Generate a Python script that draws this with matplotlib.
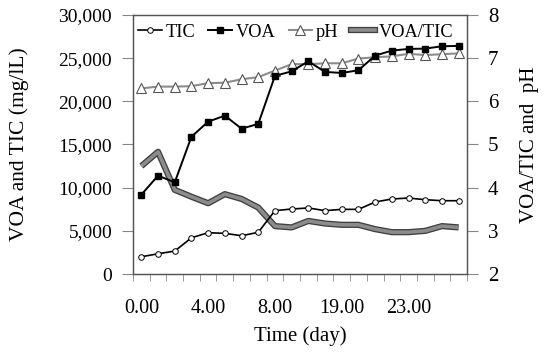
import numpy as np
import matplotlib
matplotlib.use('Agg')
import matplotlib.pyplot as plt
from matplotlib.lines import Line2D

plt.rcParams['font.family'] = ['Liberation Serif', 'DejaVu Serif']

days = ['0.00', '1.00', '2.00', '3.00', '4.00', '5.00', '6.00', '7.00', '8.00', '10.00',
        '13.00', '16.00', '19.00', '20.00', '21.00', '22.00', '23.00', '24.00', '25.00', '26.00']
tic = [2000, 2350, 2660, 4200, 4790, 4710, 4440, 4830, 7340, 7530,
       7650, 7340, 7490, 7490, 8340, 8690, 8800, 8610, 8490, 8490]
voa = [9190, 11390, 10620, 15900, 17640, 18340, 16830, 17380, 22940, 23470,
       24630, 23400, 23280, 23590, 25290, 25870, 26060, 26100, 26370, 26410]
ph = [6.30, 6.34, 6.34, 6.35, 6.42, 6.43, 6.51, 6.56, 6.71, 6.86,
      6.86, 6.88, 6.88, 6.99, 7.02, 7.04, 7.10, 7.07, 7.09, 7.11]
ratio = [4.50, 4.83, 3.95, 3.79, 3.64, 3.85, 3.74, 3.54, 3.11, 3.08,
         3.23, 3.17, 3.14, 3.14, 3.04, 2.97, 2.97, 3.00, 3.11, 3.08]

x = np.arange(len(days))

fig = plt.figure(figsize=(5.5, 3.55), dpi=100)
ax = fig.add_axes([0.2418, 0.228, 0.6073, 0.730])
ax2 = ax.twinx()

# ratio drawn first (behind) as a gray band with dark edges
ax2.plot(x, ratio, color='#404040', lw=4.5, zorder=1, solid_capstyle='butt')
ax2.plot(x, ratio, color='#8c8c8c', lw=2.6, zorder=2, solid_capstyle='butt')
ax2.plot(x, ph, color='#8c8c8c', lw=1.5, marker='^', ms=7, mfc='white',
         mec='#555555', mew=0.8, zorder=3)
ax2.set_ylim(2, 8)
ax2.set_ylabel('VOA/TIC and  pH', fontsize=15)
ax2.yaxis.set_label_coords(1.159, 0.5)

ax.set_zorder(ax2.get_zorder() + 1)
ax.patch.set_visible(False)
ax.plot(x, tic, color='black', lw=1.2, marker='o', ms=4, mfc='white', mec='black', mew=0.7)
ax.plot(x, voa, color='black', lw=1.4, marker='s', ms=5, mfc='black', mec='black')
ax.set_ylim(0, 30000)
ax.set_yticks(np.arange(0, 30001, 5000))
ax.set_yticklabels(['{:,}'.format(v) for v in range(0, 30001, 5000)])
ax.set_ylabel('VOA and TIC (mg/lL)', fontsize=15.5)
ax.yaxis.set_label_coords(-0.31, 0.5)

ax.set_xlim(-0.5, len(days) - 0.5)
ax.set_xticks(x[::4])
ax.set_xticklabels([days[i] for i in range(0, len(days), 4)])
ax.set_xticks(np.arange(-0.5, len(days), 1), minor=True)
ax.tick_params(axis='x', which='major', length=0, labelsize=14.5, pad=18)
ax.tick_params(axis='x', which='minor', length=5, color='#888888', direction='out')
ax.tick_params(axis='y', length=8, color='#888888', labelsize=14, pad=7)
ax2.tick_params(axis='y', length=8, color='#888888', labelsize=15, pad=7)
ax.set_xlabel('Time (day)', fontsize=15, labelpad=6)

for a in (ax, ax2):
    for s in a.spines.values():
        s.set_color('#555555')
        s.set_linewidth(0.9)

h_tic = Line2D([], [], color='black', lw=1.2, marker='o', ms=4, mfc='white', mec='black', mew=0.7)
h_voa = Line2D([], [], color='black', lw=1.4, marker='s', ms=5, mfc='black')
h_ph = Line2D([], [], color='#8c8c8c', lw=1.5, marker='^', ms=7, mfc='white', mec='#555555', mew=0.8)
h_r1 = Line2D([], [], color='#404040', lw=4.5)
h_r2 = Line2D([], [], color='#8c8c8c', lw=2.6)
ax.legend([h_tic, h_voa, h_ph, (h_r1, h_r2)], ['TIC', 'VOA', 'pH', 'VOA/TIC'],
          loc='center', bbox_to_anchor=(0.488, 0.934), ncol=4, frameon=False,
          fontsize=13.2, handlelength=1.3, handletextpad=0.2, columnspacing=0.7,
          borderpad=0)

fig.savefig('out.png', dpi=100)
